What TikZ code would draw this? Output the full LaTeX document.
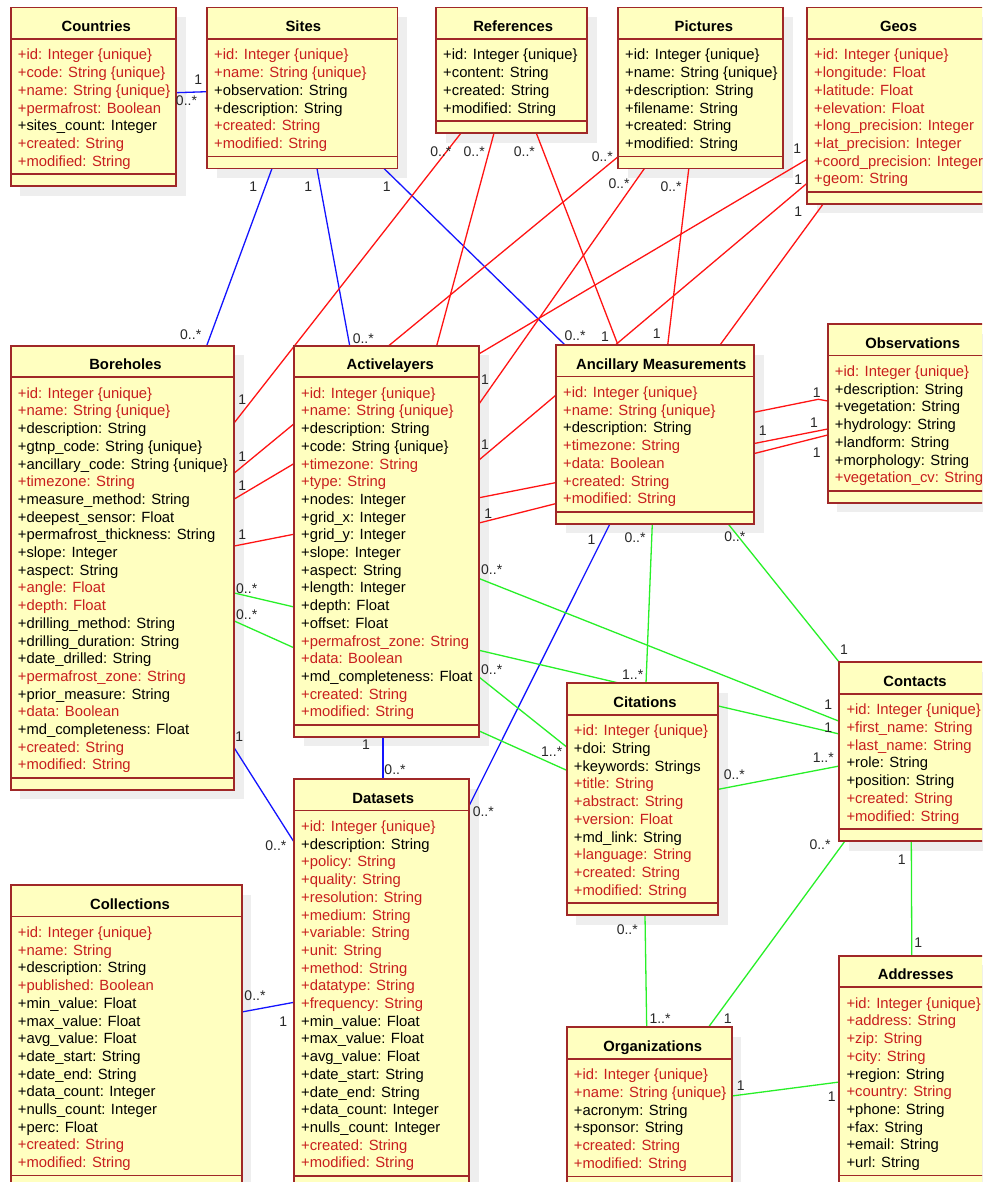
\documentclass[tikz,border=0pt]{standalone}
\usepackage{fontspec}
\setmainfont{Liberation Sans}
\usetikzlibrary{calc}
\pgfdeclarelayer{bglayer}
\pgfdeclarelayer{shadowlayer}
\pgfdeclarelayer{linelayer}
\pgfsetlayers{bglayer,shadowlayer,linelayer,main}

\definecolor{boxfill}{RGB}{255,255,192}
\definecolor{boxline}{RGB}{160,40,40}
\definecolor{attrr}{RGB}{200,30,30}
\definecolor{attrk}{RGB}{0,0,0}
\definecolor{shadowc}{RGB}{238,238,238}
\definecolor{lblue}{RGB}{20,20,255}
\definecolor{lred}{RGB}{255,20,20}
\definecolor{lgreen}{RGB}{40,240,40}
\definecolor{lbltext}{RGB}{40,40,40}

\tikzset{
 classbox/.style={rectangle, draw=boxline, fill=boxfill, line width=1.8pt, inner sep=0pt, outer sep=0pt},
 sepline/.style={draw=boxline, line width=1.6pt},
 titletext/.style={inner sep=0pt, anchor=base, font=\fontsize{14.8}{17.7}\selectfont\bfseries},
 attrtext/.style={inner sep=0pt, anchor=base west, font=\fontsize{14.8}{17.7}\selectfont},
 lbl/.style={inner sep=0pt, text=lbltext, font=\fontsize{14}{16}\selectfont},
 assoc/.style={line width=1.3pt},
 bluel/.style={assoc, draw=lblue},
 redl/.style={assoc, draw=lred},
 greenl/.style={assoc, draw=lgreen},
}

% name, xl, ytop, xr, number of attributes, title x, title, attributes
\newcommand{\umlclass}[8]{%
 \pgfmathsetmacro{\umlcy}{#3+52.5+(#5-1)*17.7+8}%
 \pgfmathsetmacro{\umlbot}{\umlcy+12}%
 \pgfmathsetmacro{\umlw}{#4-#2}%
 \pgfmathsetmacro{\umlh}{\umlbot-#3}%
 \begin{pgfonlayer}{shadowlayer}
  \fill[shadowc] ({#2+9.5},{#3+9.5}) rectangle ({#4+9.5},{\umlbot+9.5});
 \end{pgfonlayer}
 \node[classbox, minimum width=\umlw pt, minimum height=\umlh pt, anchor=north west] (#1) at (#2,#3) {};
 \draw[sepline] (#2,{#3+31.5}) -- (#4,{#3+31.5});
 \draw[sepline] (#2,\umlcy) -- (#4,\umlcy);
 \node[titletext] (#1-t) at (#6,{#3+24.2}) {#7};
 \foreach \c/\t [count=\i] in {#8} {
   \node[attrtext, text=attr\c] (#1-\i) at ({#2+7},{#3+52.5+(\i-1)*17.7}) {\t};
 }
}

\begin{document}
\begin{tikzpicture}[x={(1pt,0)}, y={(0,-1pt)}]
\useasboundingbox (0,0) rectangle (982,1182);
\begin{pgfonlayer}{bglayer}
\fill[white] (0,0) rectangle (982,1182);
\end{pgfonlayer}
\clip (0,0) rectangle (982,1182);

\umlclass{co}{10.7}{7.5}{176}{7}{96.2}{Countries}{r/+id: Integer \{unique\}, r/+code: String \{unique\}, r/+name: String \{unique\}, r/+permafrost: Boolean, k/+sites\_count: Integer, r/+created: String, r/+modified: String}

\umlclass{si}{207}{7.5}{397.5}{6}{303.3}{Sites}{r/+id: Integer \{unique\}, r/+name: String \{unique\}, k/+observation: String, k/+description: String, r/+created: String, r/+modified: String}

\umlclass{re}{436}{7.5}{587}{4}{513.2}{References}{k/+id: Integer \{unique\}, k/+content: String, k/+created: String, k/+modified: String}

\umlclass{pi}{618}{7.5}{783}{6}{703.9}{Pictures}{k/+id: Integer \{unique\}, k/+name: String \{unique\}, k/+description: String, k/+filename: String, k/+created: String, k/+modified: String}

\umlclass{ge}{807}{7.5}{995}{8}{898.5}{Geos}{r/+id: Integer \{unique\}, r/+longitude: Float, r/+latitude: Float, r/+elevation: Float, r/+long\_precision: Integer, r/+lat\_precision: Integer, r/+coord\_precision: Integer, r/+geom: String}

\umlclass{bh}{10.7}{345.7}{234.3}{22}{125.5}{Boreholes}{r/+id: Integer \{unique\}, r/+name: String \{unique\}, k/+description: String, k/+gtnp\_code: String \{unique\}, k/+ancillary\_code: String \{unique\}, r/+timezone: String, k/+measure\_method: String, k/+deepest\_sensor: Float, k/+permafrost\_thickness: String, k/+slope: Integer, k/+aspect: String, r/+angle: Float, r/+depth: Float, k/+drilling\_method: String, k/+drilling\_duration: String, k/+date\_drilled: String, r/+permafrost\_zone: String, k/+prior\_measure: String, r/+data: Boolean, k/+md\_completeness: Float, r/+created: String, r/+modified: String}

\umlclass{al}{294}{345.7}{479}{19}{390.3}{Activelayers}{r/+id: Integer \{unique\}, r/+name: String \{unique\}, k/+description: String, k/+code: String \{unique\}, r/+timezone: String, r/+type: String, k/+nodes: Integer, k/+grid\_x: Integer, k/+grid\_y: Integer, k/+slope: Integer, k/+aspect: String, k/+length: Integer, k/+depth: Float, k/+offset: Float, r/+permafrost\_zone: String, r/+data: Boolean, k/+md\_completeness: Float, r/+created: String, r/+modified: String}

\umlclass{an}{556}{345}{754}{7}{661.3}{Ancillary Measurements}{r/+id: Integer \{unique\}, r/+name: String \{unique\}, k/+description: String, r/+timezone: String, r/+data: Boolean, r/+created: String, r/+modified: String}

\umlclass{ob}{827.7}{324}{1000}{7}{912.7}{Observations}{r/+id: Integer \{unique\}, k/+description: String, k/+vegetation: String, k/+hydrology: String, k/+landform: String, k/+morphology: String, r/+vegetation\_cv: String}

\umlclass{ci}{566.7}{683.3}{718.3}{10}{645}{Citations}{r/+id: Integer \{unique\}, k/+doi: String, k/+keywords: Strings, r/+title: String, r/+abstract: String, r/+version: Float, k/+md\_link: String, r/+language: String, r/+created: String, r/+modified: String}

\umlclass{ct}{839.3}{662.3}{995}{7}{915}{Contacts}{r/+id: Integer \{unique\}, r/+first\_name: String, r/+last\_name: String, k/+role: String, k/+position: String, r/+created: String, r/+modified: String}

\umlclass{ds}{294}{779}{469}{20}{383.2}{Datasets}{r/+id: Integer \{unique\}, k/+description: String, r/+policy: String, r/+quality: String, r/+resolution: String, r/+medium: String, r/+variable: String, r/+unit: String, r/+method: String, r/+datatype: String, r/+frequency: String, k/+min\_value: Float, k/+max\_value: Float, k/+avg\_value: Float, k/+date\_start: String, k/+date\_end: String, k/+data\_count: Integer, k/+nulls\_count: Integer, r/+created: String, r/+modified: String}

\umlclass{cl}{10.7}{885}{241.7}{14}{130}{Collections}{r/+id: Integer \{unique\}, r/+name: String, k/+description: String, r/+published: Boolean, k/+min\_value: Float, k/+max\_value: Float, k/+avg\_value: Float, k/+date\_start: String, k/+date\_end: String, k/+data\_count: Integer, k/+nulls\_count: Integer, k/+perc: Float, r/+created: String, r/+modified: String}

\umlclass{og}{566.7}{1027.3}{731.7}{6}{652.7}{Organizations}{r/+id: Integer \{unique\}, r/+name: String \{unique\}, k/+acronym: String, k/+sponsor: String, r/+created: String, r/+modified: String}

\umlclass{ad}{839.3}{955.7}{995}{10}{915.7}{Addresses}{r/+id: Integer \{unique\}, r/+address: String, r/+zip: String, r/+city: String, k/+region: String, r/+country: String, k/+phone: String, k/+fax: String, k/+email: String, k/+url: String}

\coordinate (obbend) at (818.3,399.3);

\begin{pgfonlayer}{linelayer}
% blue
\draw[bluel] ($(co.north east)+(0,85.2)$) -- ($(si.north west)+(0,84.2)$);
\draw[bluel] ($(si.south west)+(65,0)$) -- ($(bh.north west)+(196,0)$);
\draw[bluel] ($(si.south west)+(110,0)$) -- ($(al.north west)+(55.7,0)$);
\draw[bluel] ($(si.south west)+(177,0)$) -- ($(an.north west)+(9,0)$);
\draw[bluel] ($(al.south west)+(89,0)$) -- ($(ds.north west)+(89,0)$);
\draw[bluel] ($(bh.north east)+(0,402.3)$) -- ($(ds.north west)+(0,63)$);
\draw[bluel] ($(an.south west)+(54,0)$) -- ($(ds.north east)+(0,27)$);
\draw[bluel] ($(cl.north east)+(0,127)$) -- ($(ds.north west)+(0,223.3)$);
% red
\draw[redl] ($(re.south west)+(25,0)$) -- ($(bh.north east)+(0,77)$);
\draw[redl] ($(re.south west)+(58,0)$) -- ($(al.north west)+(142.7,0)$);
\draw[redl] ($(re.south west)+(100.3,0)$) -- ($(an.north west)+(62,0)$);
\draw[redl] ($(pi.north west)+(0,149.3)$) -- ($(bh.north east)+(0,127.3)$);
\draw[redl] ($(pi.south west)+(26.4,0)$) -- ($(al.north east)+(0,58.3)$);
\draw[redl] ($(pi.south west)+(70.8,0)$) -- ($(an.north west)+(111.7,0)$);
\draw[redl] ($(ge.north west)+(0,151.8)$) -- ($(bh.north east)+(0,153.3)$);
\draw[redl] ($(ge.north west)+(0,175.8)$) -- ($(al.north east)+(0,114.3)$);
\draw[redl] ($(ge.south west)+(16.2,0)$) -- ($(an.north west)+(164,0)$);
\draw[redl] ($(bh.north east)+(0,200.3)$) -- ($(ob.north west)+(0,105)$);
\draw[redl] ($(al.north east)+(0,177.3)$) -- ($(ob.north west)+(0,111)$);
\draw[redl] ($(an.north east)+(0,67.3)$) -- (obbend) -- ($(ob.north west)+(0,77)$);
% green
\draw[greenl] ($(bh.north east)+(0,247.3)$) -- ($(ci.north west)+(53.3,0)$);
\draw[greenl] ($(bh.north east)+(0,275.3)$) -- ($(ci.north west)+(0,87)$);
\draw[greenl] ($(al.north east)+(0,232.8)$) -- ($(ct.north west)+(0,59)$);
\draw[greenl] ($(al.north east)+(0,331.3)$) -- ($(ci.north west)+(0,63.7)$);
\draw[greenl] ($(an.south west)+(96.3,0)$) -- ($(ci.north west)+(79.3,0)$);
\draw[greenl] ($(an.south west)+(172,0)$) -- (ct.north west);
\draw[greenl] ($(ci.north east)+(0,22.7)$) -- ($(ct.north west)+(0,71.7)$);
\draw[greenl] ($(ci.north east)+(0,106)$) -- ($(ct.north west)+(0,103.7)$);
\draw[greenl] ($(ct.south west)+(5.7,0)$) -- ($(og.north west)+(141.7,0)$);
\draw[greenl] ($(ct.south west)+(72,0)$) -- ($(ad.north west)+(72.5,0)$);
\draw[greenl] ($(ci.south west)+(78.3,0)$) -- ($(og.north west)+(80,0)$);
\draw[greenl] ($(og.north east)+(0,68.7)$) -- ($(ad.north west)+(0,126.3)$);
\end{pgfonlayer}

% multiplicity labels
\node[lbl] (m1) at (198.3,80) {1};
\node[lbl] (m2) at (186.5,101) {0..*};
\node[lbl] (m3) at (253.3,186.7) {1};
\node[lbl] (m4) at (308.3,186.7) {1};
\node[lbl] (m5) at (386.7,186.7) {1};
\node[lbl] (m6) at (190.7,335) {0..*};
\node[lbl] (m7) at (363.3,339) {0..*};
\node[lbl] (m8) at (575,336) {0..*};
\node[lbl] (m9) at (605,337) {1};
\node[lbl] (m10) at (656.7,333.3) {1};
\node[lbl] (m11) at (440.8,151.7) {0..*};
\node[lbl] (m12) at (474.2,151.7) {0..*};
\node[lbl] (m13) at (524.4,151.7) {0..*};
\node[lbl] (m14) at (602.3,156.7) {0..*};
\node[lbl] (m15) at (619,183.3) {0..*};
\node[lbl] (m16) at (671,186.7) {0..*};
\node[lbl] (m17) at (797.2,148.3) {1};
\node[lbl] (m18) at (798.3,180) {1};
\node[lbl] (m19) at (798.3,211.7) {1};
\node[lbl] (m20) at (242.3,399.3) {1};
\node[lbl] (m21) at (242.3,456.7) {1};
\node[lbl] (m22) at (242.3,486) {1};
\node[lbl] (m23) at (242.3,535) {1};
\node[lbl] (m24) at (485,380) {1};
\node[lbl] (m25) at (485,445) {1};
\node[lbl] (m26) at (488.3,513.3) {1};
\node[lbl] (m27) at (816.7,392.7) {1};
\node[lbl] (m28) at (762.7,430.7) {1};
\node[lbl] (m29) at (814,422.7) {1};
\node[lbl] (m30) at (816.7,452.7) {1};
\node[lbl] (m31) at (246.7,588.3) {0..*};
\node[lbl] (m32) at (246.7,615) {0..*};
\node[lbl] (m33) at (491.7,570) {0..*};
\node[lbl] (m34) at (491.7,670) {0..*};
\node[lbl] (m35) at (632.7,675) {1..*};
\node[lbl] (m36) at (551.7,751.7) {1..*};
\node[lbl] (m37) at (635,537.3) {0..*};
\node[lbl] (m38) at (734.8,536.7) {0..*};
\node[lbl] (m39) at (844,650) {1};
\node[lbl] (m40) at (828.3,705) {1};
\node[lbl] (m41) at (828.3,727.3) {1};
\node[lbl] (m42) at (734.3,775) {0..*};
\node[lbl] (m43) at (823.3,757.3) {1..*};
\node[lbl] (m44) at (820,844.3) {0..*};
\node[lbl] (m45) at (901.7,860) {1};
\node[lbl] (m46) at (918.3,942.7) {1};
\node[lbl] (m47) at (627.3,929.3) {0..*};
\node[lbl] (m48) at (660,1018.3) {1..*};
\node[lbl] (m49) at (727.7,1018.3) {1};
\node[lbl] (m50) at (740.7,1086) {1};
\node[lbl] (m51) at (831.7,1096.7) {1};
\node[lbl] (m52) at (239.3,736.7) {1};
\node[lbl] (m53) at (275.9,846) {0..*};
\node[lbl] (m54) at (366,745) {1};
\node[lbl] (m55) at (395,770) {0..*};
\node[lbl] (m56) at (591.5,540) {1};
\node[lbl] (m57) at (483.3,811.7) {0..*};
\node[lbl] (m58) at (255,996) {0..*};
\node[lbl] (m59) at (283.3,1021.7) {1};
\end{tikzpicture}
\end{document}
